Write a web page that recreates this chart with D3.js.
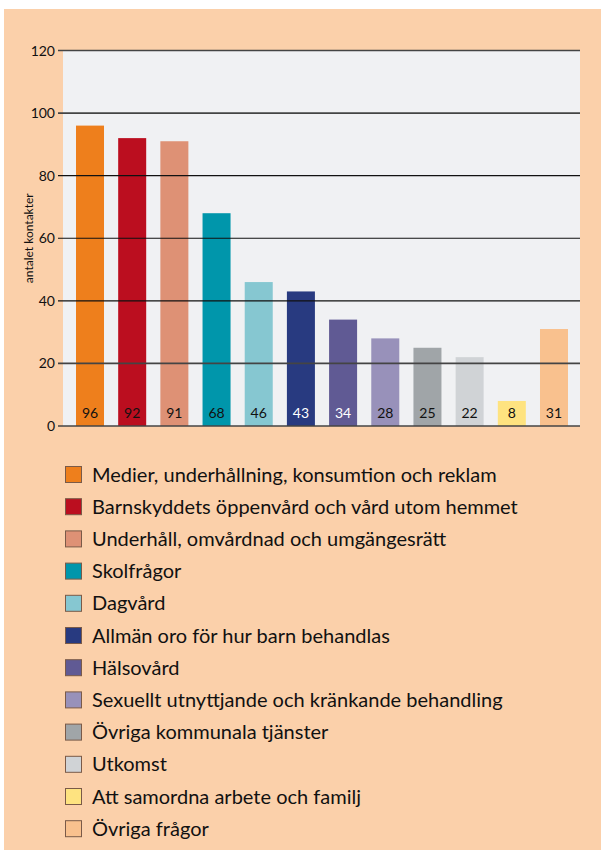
<!DOCTYPE html>
<html>
<head>
<meta charset="utf-8">
<script src="https://cdn.jsdelivr.net/npm/d3@7"></script>
<style>
  body { margin: 0; background: white; }
  svg { display: block; font-family: Lato, "Open Sans", sans-serif; }
</style>
</head>
<body>
<div id="chart"></div>
<script>
var categories = ["Medier, underhållning, konsumtion och reklam", "Barnskyddets öppenvård och vård utom hemmet",
  "Underhåll, omvårdnad och umgängesrätt", "Skolfrågor", "Dagvård", "Allmän oro för hur barn behandlas",
  "Hälsovård", "Sexuellt utnyttjande och kränkande behandling", "Övriga kommunala tjänster", "Utkomst",
  "Att samordna arbete och familj", "Övriga frågor"]
var values = [96, 92, 91, 68, 46, 43, 34, 28, 25, 22, 8, 31]
var colors = ["#EE7F1C", "#BB0E1F", "#DE9175", "#0096AB", "#86C7D1", "#283A80",
  "#605A94", "#9891BA", "#A0A5A8", "#D0D3D6", "#FEE380", "#F9C18E"]
var labelColors = ["#111", "#111", "#111", "#111", "#111", "white", "white", "#111", "#111", "#111", "#111", "#111"]
var yTicks = [0, 20, 40, 60, 80, 100, 120]

var svg = d3.select("#chart").append("svg")
  .attr("width", 601)
  .attr("height", 854)

svg.append("rect")
  .attr("x", 4).attr("y", 9)
  .attr("width", 597).attr("height", 841)
  .attr("fill", "#FBD0AA")

var x = d3.scaleBand()
  .domain(categories)
  .range([76, 568])
  .paddingInner(0.336)
  .paddingOuter(0)

var y = d3.scaleLinear()
  .domain([0, 120])
  .range([426, 50.5])

// plot background
svg.append("rect")
  .attr("x", 63).attr("y", y(120))
  .attr("width", 517).attr("height", y(0) - y(120))
  .attr("fill", "#F0F1F3")

svg.selectAll(".bar")
  .data(values)
  .enter()
  .append("rect")
  .attr("x", (d, i) => x(categories[i]))
  .attr("y", d => y(d))
  .attr("width", x.bandwidth())
  .attr("height", d => y(0) - y(d))
  .attr("fill", (d, i) => colors[i])

// gridlines + ticks
svg.selectAll(".grid")
  .data(yTicks)
  .enter()
  .append("line")
  .attr("x1", 58)
  .attr("x2", 580)
  .attr("y1", d => y(d))
  .attr("y2", d => y(d))
  .attr("stroke", d => (d == 0 || d == 20 || d == 100 || d == 120) ? "#444" : "#111")
  .attr("stroke-width", d => (d == 0 || d == 20 || d == 100 || d == 120) ? 1.6 : 1.2)

svg.selectAll(".ytick")
  .data(yTicks)
  .enter()
  .append("text")
  .text(d => d)
  .attr("x", 55)
  .attr("y", d => y(d) + 5)
  .attr("text-anchor", "end")
  .attr("font-size", 14)
  .attr("fill", "#111")

svg.append("text")
  .text("antalet kontakter")
  .attr("transform", "translate(33," + y(60) + ") rotate(-90)")
  .attr("text-anchor", "middle")
  .attr("font-size", 12)
  .attr("fill", "#111")

svg.selectAll(".vlabel")
  .data(values)
  .enter()
  .append("text")
  .text(d => d)
  .attr("x", (d, i) => x(categories[i]) + x.bandwidth() / 2)
  .attr("y", 418)
  .attr("text-anchor", "middle")
  .attr("font-size", 14)
  .attr("fill", (d, i) => labelColors[i])

// legend
var legend = svg.selectAll(".legend")
  .data(categories)
  .enter()
  .append("g")
  .attr("transform", (d, i) => "translate(65," + (466 + i * 32.2) + ")")

legend.append("rect")
  .attr("x", 0.5).attr("y", 0.5)
  .attr("width", 16).attr("height", 16)
  .attr("fill", (d, i) => colors[i])
  .attr("stroke", "#7a5a48")
  .attr("stroke-width", 1)

legend.append("text")
  .text(d => d)
  .attr("x", 27)
  .attr("y", 15.5)
  .attr("font-size", 20)
  .attr("fill", "#111")
</script>
</body>
</html>
